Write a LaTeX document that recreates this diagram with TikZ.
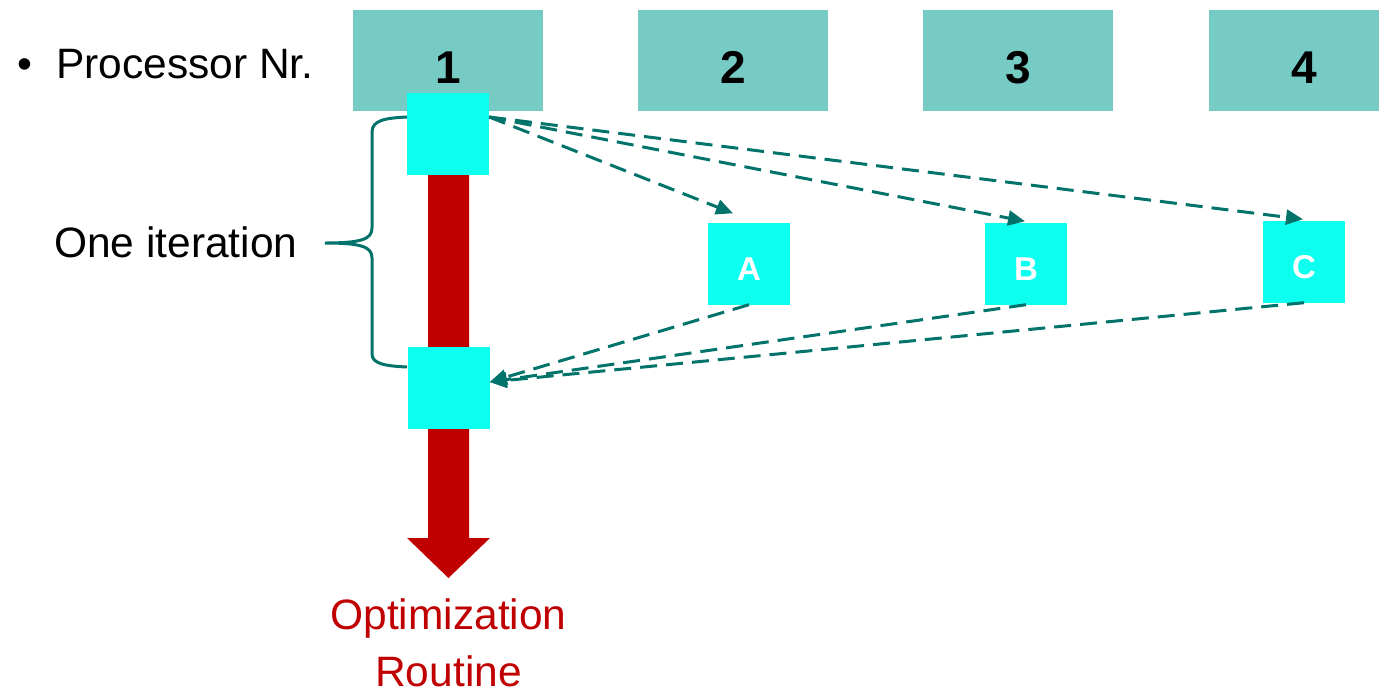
\documentclass[tikz,border=0pt]{standalone}
\usepackage{fontspec}
\setmainfont{Liberation Sans}
\usetikzlibrary{arrows.meta,calc}
\definecolor{hdr}{HTML}{77CBC5}
\definecolor{cell}{HTML}{0CFFEF}
\definecolor{link}{HTML}{02736B}
\definecolor{route}{HTML}{C00000}
\begin{document}
\begin{tikzpicture}[x=1pt,y=-1pt,
  hdrbox/.style={fill=hdr, minimum width=190pt, minimum height=101pt, inner sep=0pt,
    font=\fontsize{46}{50}\selectfont\bfseries, text height=46pt, text depth=0pt},
  cellbox/.style={fill=cell, minimum size=82pt, inner sep=0pt},
  taskbox/.style={cellbox, text=white, font=\fontsize{33}{36}\selectfont\bfseries,
    text height=33pt, text depth=0pt},
  msg/.style={draw=link, line width=3pt, dash pattern=on 17pt off 9pt,
    -{Triangle[length=17pt,width=15pt]}},
  lbl/.style={font=\fontsize{42.5}{57}\selectfont, inner sep=0pt}]
\useasboundingbox (0,0) rectangle (1379,694);

% processor headers
\node[hdrbox] (p1) at (448,60.5) {1};
\node[hdrbox] (p2) at (733,60.5) {2};
\node[hdrbox] (p3) at (1018,60.5) {3};
\node[hdrbox] (p4) at (1304,60.5) {4};

\node[lbl, anchor=base] (bul) at (25,78) {•};
\node[lbl, anchor=base west] (proc) at (56,78) {Processor Nr.};

% main optimisation flow on processor 1
\coordinate (rtop) at (448.5,150);
\coordinate (rtip) at (448.5,578);
\fill[route] ($(rtop)+(-20.5,0)$) -- ($(rtop)+(20.5,0)$) -- ($(rtip)+(20.5,-40)$)
  -- ($(rtip)+(41.5,-40)$) -- (rtip) -- ($(rtip)+(-41.5,-40)$)
  -- ($(rtip)+(-20.5,-40)$) -- cycle;
\node[lbl, text=route, align=center, anchor=base] (opt) at (448.5,686)
  {Optimization\\Routine};

% iteration brace
\draw[link, line width=3pt] (407,117) .. controls (386,118) and (372,120) .. (372,132)
  -- (372,228) .. controls (372,239) and (362,243) .. (325,243)
  .. controls (362,243) and (372,247) .. (372,258)
  -- (372,354) .. controls (372,364) and (386,366) .. (407,367);
\node[lbl, anchor=base west] (iter) at (54,257) {One iteration};

% work units
\node[cellbox] (s1) at (448,134) {};
\node[cellbox] (s2) at (448.5,388) {};
\node[taskbox] (a) at (749,263.5) {A};
\node[taskbox] (b) at (1026,263.5) {B};
\node[taskbox] (c) at (1304,261.5) {C};

% distribute and collect
\coordinate (out) at ($(s1.east)+(0,-17)$);
\coordinate (in) at ($(s2.east)+(0,-6)$);
\draw[msg] (out) -- ($(a.north)+(-16,-9)$);
\draw[msg] (out) -- ($(b.north)+(-1,-1)$);
\draw[msg] (out) -- ($(c.north)+(-1,-1)$);
\draw[msg] (a.south) -- (in);
\draw[msg] (b.south) -- (in);
\draw[msg] (c.south) -- (in);
\end{tikzpicture}
\end{document}
